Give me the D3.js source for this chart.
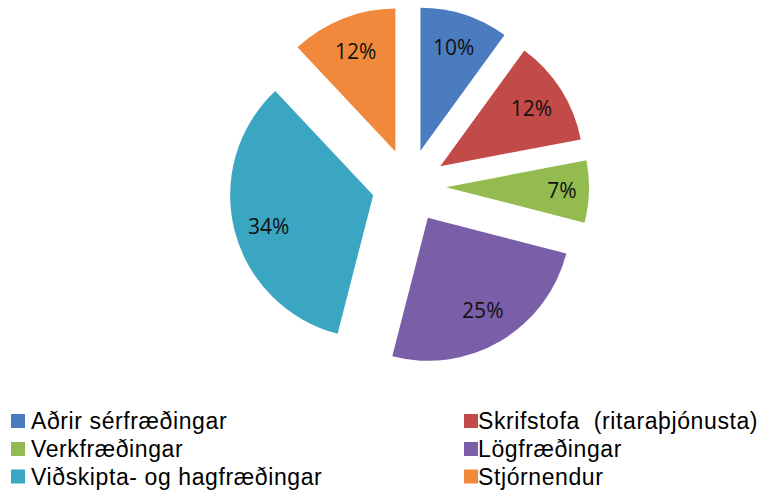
<!DOCTYPE html>
<html><head><meta charset="utf-8">
<script src="https://cdn.jsdelivr.net/npm/d3@7"></script>
<style>body{margin:0;background:#fff}svg{display:block}</style>
</head><body>
<svg id="c" width="767" height="496"></svg>
<script>
const categories = ["Aðrir sérfræðingar","Skrifstofa  (ritaraþjónusta)","Verkfræðingar","Lögfræðingar","Viðskipta- og hagfræðingar","Stjórnendur"];
const values = [10,12,7,25,34,12];
const labels = ["10%","12%","7%","25%","34%","12%"];
const colors = ["#4a7cbf","#c24b4a","#93bb4f","#7b5ea8","#3ba6c2","#f0893b"];

const svg = d3.select("#c");
const cx = 409, cy = 186, R = 143, explode = 37, labelR = 108;
const pie = d3.pie().sort(null).value(d => d)(values);
const arc = d3.arc().innerRadius(0).outerRadius(R);
const g = svg.append("g").attr("transform", `translate(${cx},${cy})`);
const slices = g.selectAll("g.s").data(pie).enter().append("g")
  .attr("transform", d => {
    const a = (d.startAngle + d.endAngle) / 2;
    return `translate(${explode*Math.sin(a)},${-explode*Math.cos(a)})`;
  });
slices.append("path").attr("d", arc).attr("fill", (d,i) => colors[i]);
slices.append("text")
  .attr("x", d => labelR*Math.sin((d.startAngle+d.endAngle)/2) + (d.index===2 ? 8 : 0))
  .attr("y", d => -labelR*Math.cos((d.startAngle+d.endAngle)/2) + (d.index===4 ? 5 : 0))
  .attr("dy", "0.35em").attr("text-anchor", "middle")
  .attr("font-family", "'Open Sans', sans-serif").attr("font-size", 21)
  .attr("fill", "#111")
  .text((d,i) => labels[i]);

// legend
const legX = [11, 464], textX = [31, 478], legY = [421, 449, 476.5];
const leg = svg.selectAll("g.l").data(categories).enter().append("g")
  .attr("transform", (d,i) => `translate(0,${legY[Math.floor(i/2)]})`);
leg.append("rect").attr("x", (d,i) => legX[i%2]).attr("y", -7).attr("width", 14).attr("height", 14)
  .attr("fill", (d,i) => colors[i]);
leg.append("text").attr("x", (d,i) => textX[i%2]).attr("dy", "0.36em")
  .attr("font-family", "'Liberation Sans', Arial, sans-serif").attr("font-size", 23)
  .attr("letter-spacing", "0.6px")
  .attr("fill", "#000").style("white-space","pre").text(d => d);
</script>
</body></html>
